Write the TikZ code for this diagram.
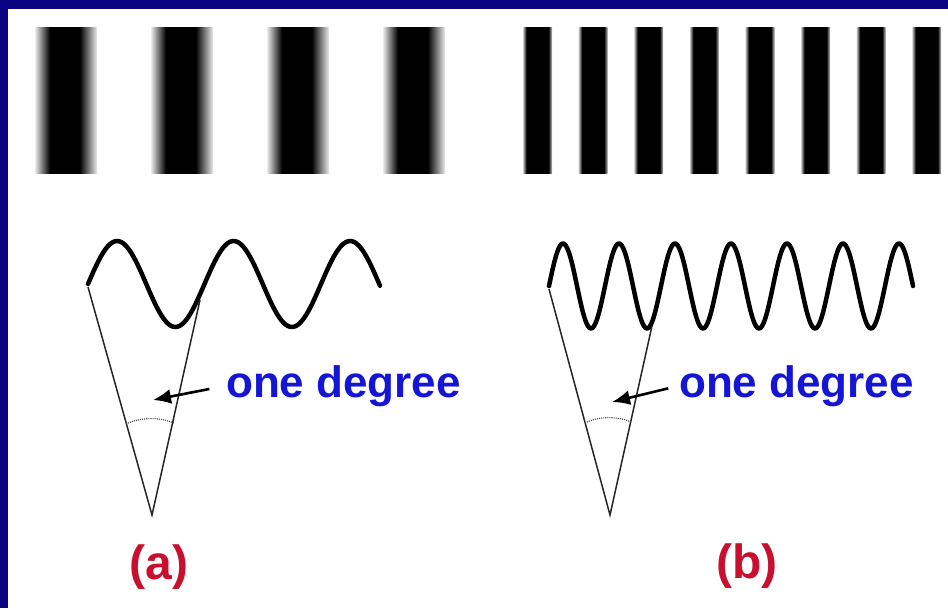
\documentclass[tikz,border=0pt]{standalone}
\usepackage{fontspec}
\setmainfont{Liberation Sans}
\usetikzlibrary{arrows.meta}
\definecolor{navy}{HTML}{0A0482}
\definecolor{lblblue}{HTML}{1515D6}
\definecolor{lblred}{HTML}{C8102E}
\pgfdeclarehorizontalshading{wideblur}{100bp}{color(0bp)=(white); color(25bp)=(white!92!black); color(37bp)=(black); color(61bp)=(black); color(75bp)=(white!92!black); color(100bp)=(white)}
\pgfdeclarehorizontalshading{thinblur}{100bp}{color(0bp)=(white); color(25bp)=(white!80!black); color(31bp)=(black); color(69bp)=(black); color(75bp)=(white!80!black); color(100bp)=(white)}
\tikzset{
  widebar/.style={shading=wideblur},
  thinbar/.style={shading=thinblur},
  wave/.style={line width=4.5pt, line cap=round, line join=round},
  ray/.style={draw=black!85, line width=1.5pt},
  pointer/.style={-{Latex[length=18pt,width=15pt]}, line width=2.6pt},
  arcmark/.style={draw=black!70, line width=1.1pt, densely dotted},
  degree/.style={text=lblblue, font=\bfseries\fontsize{44}{44}\selectfont, inner sep=0pt},
  panel/.style={text=lblred, font=\bfseries\fontsize{48}{48}\selectfont, inner sep=0pt},
}

\begin{document}
\begin{tikzpicture}[x=1pt, y=-1pt]
\useasboundingbox (0,0) rectangle (948,608);
\fill[navy] (0,0) rectangle (948,608);
\fill[white] (8,9) rectangle (948,608);

% ---------------- the gratings ----------------
\foreach \i in {0,...,3} {
  \shade[widebar] ({35+116*\i},27) rectangle ({97+116*\i},173);
}
\foreach \i in {0,...,7} {
  \shade[thinbar] ({523+55.6*\i},27) rectangle ({552+55.6*\i},173);
}

% ---------------- (a) low frequency ----------------
\draw[wave] plot[domain=88:380, samples=160, smooth] (\x,{284-43*sin((\x-88)/116.5*360)});
\coordinate (topA) at (88,287);
\coordinate (apexA) at (152,515);
\coordinate (rimA) at (200,300);
\draw[ray] (topA) -- (apexA) -- (rimA);
\draw[arcmark] (126,424) .. controls (140,417) and (160,417) .. (174,423);
\coordinate (tipA) at (153,400);
\node[degree, anchor=base west] (degA) at (226,397) {one degree};
\draw[pointer, shorten <=17pt] (degA.west) -- (tipA);
\node[panel] (labA) at (159,567) {(a)};

% ---------------- (b) high frequency ----------------
\draw[wave] plot[domain=549:913, samples=300, smooth] (\x,{286-42.5*sin((\x-549)/56*360)});
\coordinate (topB) at (549,289);
\coordinate (apexB) at (610,515);
\coordinate (rimB) at (652,326);
\draw[ray] (topB) -- (apexB) -- (rimB);
\draw[arcmark] (585,423) .. controls (598,416) and (618,416) .. (631,422);
\coordinate (tipB) at (612,402);
\node[degree, anchor=base west] (degB) at (679,397) {one degree};
\draw[pointer, shorten <=11pt] (degB.west) -- (tipB);
\node[panel] (labB) at (747,566) {(b)};
\end{tikzpicture}
\end{document}
